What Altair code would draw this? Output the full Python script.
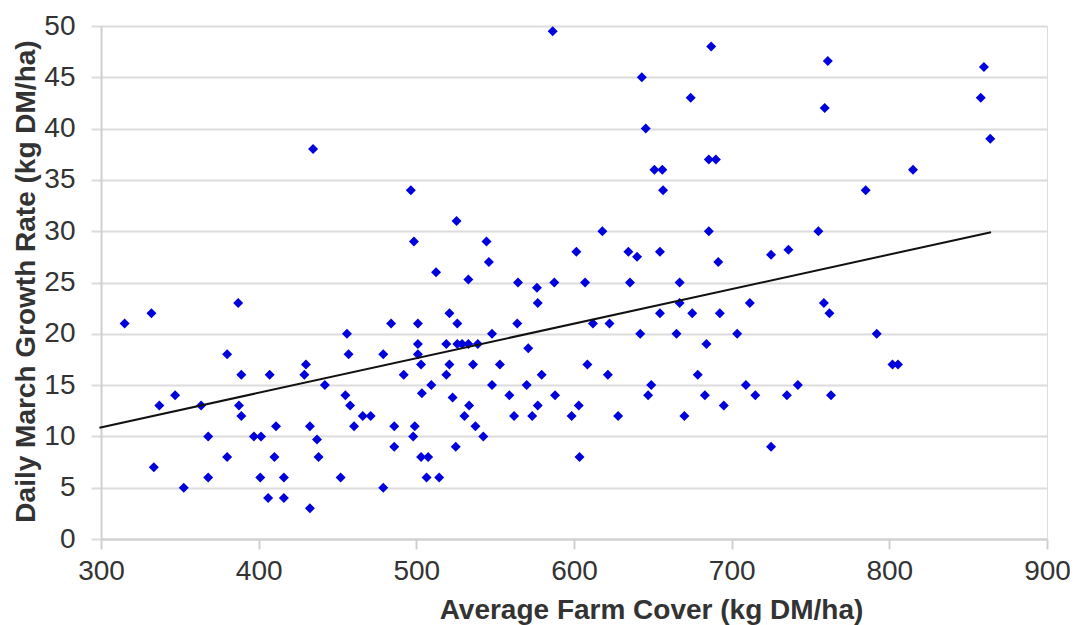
import altair as alt
import pandas as pd

# Average farm cover (kg DM/ha)
cover = [
    315, 332, 387, 380, 389, 407, 347, 337, 363.5, 387.5, 389, 411, 368, 397, 401.5, 380, 410, 333.5, 368, 401, 416, 352.5, 406, 416,
    521, 484, 501, 526, 564, 456, 548, 501, 519, 526, 529, 533, 539, 571, 457, 479, 501, 430, 503, 521, 536, 553, 429, 492, 519,
    442, 509.5, 548, 570, 455, 503.5, 523, 559, 458, 533.5, 577, 466, 471, 530.5, 562, 573.5, 432.5, 460.5, 486, 499, 537.5,
    437, 498, 542.5, 486, 525, 438, 503, 507.5, 452, 506.5, 514.5, 479, 432.5, 577,
    587.5, 607, 635.5, 667, 667, 711.5, 654.5, 675, 692.5, 612, 622.5, 642, 665, 703.5, 684, 608.5, 579.5, 621.5, 678.5,
    649, 709, 588, 647, 683, 715, 603, 695, 598.5, 628, 670, 603.5,
    758.5, 762, 792, 802, 805.5, 742, 735, 763, 725,
    434.5, 496.5, 525.5, 498.5, 544.5, 546, 512.5, 533, 564.5, 576.5,
    586.5, 687, 761, 860, 643, 674, 759, 858, 645.5, 864, 685.5, 690, 651, 656, 815, 656.5, 785, 618, 685.5, 755,
    601.5, 634.5, 640, 654.5, 691.5, 725, 736,
]
# Daily March growth rate (kg DM/ha)
growth = [
    21, 22, 23, 18, 16, 16, 14, 13, 13, 13, 12, 11, 10, 10, 10, 8, 8, 7, 6, 6, 6, 5, 4, 4,
    22, 21, 21, 21, 21, 20, 20, 19, 19, 19, 19, 19, 19, 18.6, 18, 18, 18, 17, 17, 17, 17, 17, 16, 16, 16,
    15, 15, 15, 15, 14, 14.2, 13.8, 14, 13, 13, 13, 12, 12, 12, 12, 12, 11, 11, 11, 11, 11,
    9.7, 10, 10, 9, 9, 8, 8, 8, 6, 6, 6, 5, 3, 23,
    25, 25, 25, 25, 23, 23, 22, 22, 22, 21, 21, 20, 20, 20, 19, 17, 16, 16, 16,
    15, 15, 14, 14, 14, 14, 13, 13, 12, 12, 12, 8,
    23, 22, 20, 17, 17, 15, 14, 14, 9,
    38, 34, 31, 29, 29, 27, 26, 25.3, 25, 24.5,
    49.5, 48, 46.6, 46, 45, 43, 42, 43, 40, 39, 37, 37, 36, 36, 36, 34, 34, 30, 30, 30,
    28, 28, 27.5, 28, 27, 27.7, 28.2,
]
# Trend line end points
trend_x = [299, 864.5]
trend_y = [10.85, 29.9]

pts = pd.DataFrame({"cover": cover, "growth": growth})
trend = pd.DataFrame({"cover": trend_x, "growth": trend_y})

FONT = "Liberation Sans"

xscale = alt.Scale(domain=[300, 900], nice=False, zero=False)
yscale = alt.Scale(domain=[0, 50], nice=False)

xaxis = alt.Axis(
    values=[300, 400, 500, 600, 700, 800, 900], grid=False, labelFlush=False,
    domainColor="#d0d0d0", domainWidth=2, tickColor="#d0d0d0", tickWidth=2, tickSize=10,
    labelFont=FONT, labelFontSize=28, labelColor="#333333", labelPadding=8,
    title="Average Farm Cover (kg DM/ha)", titleFont=FONT, titleFontSize=28, titleFontWeight="bold",
    titleColor="#333333", titleX=550, titleY=79, titleBaseline="alphabetic", titleAlign="center",
)
yaxis = alt.Axis(
    values=list(range(0, 51, 5)), grid=True, gridColor="#dcdcdc", gridWidth=2, labelFlush=False,
    domainColor="#d0d0d0", domainWidth=2, tickColor="#dcdcdc", tickWidth=2, tickSize=10,
    labelFont=FONT, labelFontSize=28, labelColor="#333333", labelPadding=16,
    title="Daily March Growth Rate (kg DM/ha)", titleFont=FONT, titleFontSize=28, titleFontWeight="bold",
    titleColor="#333333", titleX=-67, titleY=255, titleBaseline="alphabetic", titleAlign="center", titleAngle=270,
)

points = alt.Chart(pts).mark_point(shape="diamond", filled=True, size=100, color="#0000dd", opacity=1).encode(
    x=alt.X("cover:Q", scale=xscale, axis=xaxis),
    y=alt.Y("growth:Q", scale=yscale, axis=yaxis),
)
line = alt.Chart(trend).mark_line(color="#111111", strokeWidth=2).encode(
    x=alt.X("cover:Q", scale=xscale),
    y=alt.Y("growth:Q", scale=yscale),
)

chart = alt.layer(points, line).properties(
    width=946, height=513,
    autosize=alt.AutoSizeParams(type="none"),
    padding={"left": 93, "top": 18, "right": 23, "bottom": 86},
).configure_view(stroke=None).configure(background="white")

chart.save("out.html", embed_options={"renderer": "svg", "actions": False})
